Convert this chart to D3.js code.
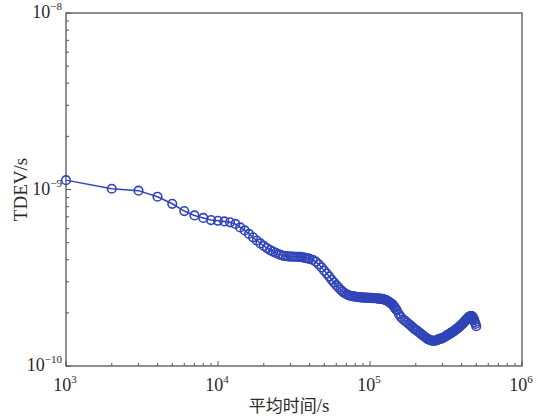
<!DOCTYPE html>
<html>
<head>
<meta charset="utf-8">
<script src="https://cdn.jsdelivr.net/npm/d3@7"></script>
<style>
  body { margin: 0; background: #fff; }
</style>
</head>
<body>
<svg id="chart" width="538" height="420"></svg>
<script>
// averaging time, in units of 1000 s (ks)
const tauKs = [
  1,2,3,4,5,6,7,8,9,10,11,12,13,14,15,16,17,18,19,20,
  21,22,23,24,25,26,27,28,29,30,31,32,33,34,35,36,37,38,39,40,
  42,44,46,48,50,52,54,56,58,60,62,64,66,68,70,72,74,76,78,80,
  82,84,86,88,90,92,94,96,98,100,102,104,106,108,110,112,114,116,118,120,
  122,124,126,128,130,132,134,136,138,140,142,144,146,148,150,
  155,160,165,170,175,180,185,190,195,200,205,210,215,220,225,230,235,240,245,250,
  255,260,265,270,275,280,285,290,295,300,305,310,315,320,325,330,335,340,345,350,
  355,360,365,370,375,380,385,390,395,400,405,410,415,420,425,430,435,440,445,450,
  455,460,465,470,475,480,485,490,495,500
];
// TDEV, in ns
const tdevNs = [
  1.13,1.01,0.985,0.91,0.83,0.755,0.713,0.69,0.671,0.665,0.659,0.652,0.638,0.61,0.586,0.56,0.536,0.514,0.495,0.479,
  0.466,0.454,0.445,0.437,0.430,0.425,0.421,0.419,0.418,0.417,0.417,0.416,0.416,0.415,0.415,0.413,0.411,0.409,0.407,0.405,
  0.399,0.390,0.377,0.362,0.347,0.334,0.321,0.308,0.297,0.287,0.279,0.271,0.264,0.259,0.255,0.252,0.250,0.249,0.248,0.247,
  0.246,0.246,0.245,0.245,0.244,0.244,0.244,0.243,0.243,0.243,0.243,0.242,0.242,0.242,0.242,0.241,0.241,0.241,0.240,0.240,
  0.239,0.238,0.237,0.236,0.234,0.232,0.230,0.228,0.226,0.224,0.221,0.217,0.214,0.210,0.207,
  0.197,0.189,0.184,0.180,0.177,0.173,0.170,0.166,0.163,0.160,0.158,0.155,0.153,0.150,0.148,0.146,0.144,0.142,0.141,0.140,
  0.139,0.139,0.139,0.139,0.140,0.141,0.142,0.143,0.143,0.144,0.145,0.146,0.147,0.149,0.150,0.151,0.152,0.154,0.155,0.156,
  0.157,0.159,0.160,0.162,0.163,0.165,0.166,0.168,0.170,0.171,0.173,0.175,0.177,0.179,0.181,0.183,0.185,0.187,0.189,0.190,
  0.191,0.192,0.192,0.191,0.189,0.186,0.182,0.177,0.173,0.168
];
const xTickExps = [3, 4, 5, 6];
const yTickExps = [-10, -9, -8];
const xLabelCn = "平均时间";
const xLabelUnit = "/s";
const yLabel = "TDEV/s";

const data = tauKs.map((t, i) => ({ tau: t * 1000, tdev: tdevNs[i] * 1e-9 }));

const margin = { left: 66, top: 13, right: 16, bottom: 54 };
const W = 538, H = 420;
const iw = W - margin.left - margin.right;
const ih = H - margin.top - margin.bottom;

const serif = '"Liberation Serif", "Times New Roman", serif';
const cjk = '"Noto Sans CJK SC", sans-serif';
const textColor = "#2a2a2a";
const axisColor = "#555";

const svg = d3.select('#chart');
const g = svg.append('g').attr('transform', `translate(${margin.left},${margin.top})`);

const x = d3.scaleLog().domain([1e3, 1e6]).range([0, iw]);
const y = d3.scaleLog().domain([1e-10, 1e-8]).range([ih, 0]);

// minor + major ticks, drawn inward on left and bottom only
const isMajor = v => Math.abs(Math.log10(v) - Math.round(Math.log10(v))) < 1e-9;

g.append('g').selectAll('line').data(x.ticks()).enter().append('line')
  .attr('x1', d => x(d)).attr('x2', d => x(d))
  .attr('y1', ih).attr('y2', d => ih - (isMajor(d) ? 5 : 3))
  .attr('stroke', axisColor).attr('stroke-width', 1);

g.append('g').selectAll('line').data(y.ticks()).enter().append('line')
  .attr('y1', d => y(d)).attr('y2', d => y(d))
  .attr('x1', 0).attr('x2', d => (isMajor(d) ? 5 : 3))
  .attr('stroke', axisColor).attr('stroke-width', 1);

// box
g.append('rect').attr('x', 0).attr('y', 0).attr('width', iw).attr('height', ih)
  .attr('fill', 'none').attr('stroke', axisColor).attr('stroke-width', 1.3);

// x tick labels
const xl = g.append('g').selectAll('text').data(xTickExps).enter().append('text')
  .attr('x', d => x(Math.pow(10, d)) - 1)
  .attr('y', ih + 25)
  .attr('text-anchor', 'middle')
  .attr('font-family', serif).attr('fill', textColor)
  .style('font-size', '18px');
xl.append('tspan').text('10');
xl.append('tspan').attr('dy', -8).style('font-size', '11px').text(d => d);

// y tick labels
const yl = g.append('g').selectAll('text').data(yTickExps).enter().append('text')
  .attr('x', -4)
  .attr('y', d => y(Math.pow(10, d)) + 5)
  .attr('text-anchor', 'end')
  .attr('font-family', serif).attr('fill', textColor)
  .style('font-size', '18px');
yl.append('tspan').text('10');
yl.append('tspan').attr('dy', -8).style('font-size', '11px').text(d => '\u2212' + Math.abs(d));

// axis titles
const xt = svg.append('text')
  .attr('x', margin.left + iw / 2 - 5)
  .attr('y', H - 8)
  .attr('text-anchor', 'middle')
  .attr('fill', textColor)
  .style('font-size', '17px');
xt.append('tspan').attr('font-family', cjk).text(xLabelCn);
xt.append('tspan').attr('font-family', serif).style('font-size', '19px').text(xLabelUnit);

svg.append('text')
  .attr('transform', `translate(${27},${margin.top + ih / 2}) rotate(-90)`)
  .attr('text-anchor', 'middle')
  .attr('font-family', serif).attr('fill', textColor)
  .style('font-size', '19px')
  .text(yLabel);

// series
const blue = "#3044b8";
const line = d3.line().x(d => x(d.tau)).y(d => y(d.tdev));
g.append('path').datum(data)
  .attr('d', line).attr('fill', 'none')
  .attr('stroke', blue).attr('stroke-width', 1.5);

g.append('g').selectAll('circle').data(data).enter().append('circle')
  .attr('cx', d => x(d.tau)).attr('cy', d => y(d.tdev))
  .attr('r', 4.3)
  .attr('fill', 'none')
  .attr('stroke', blue).attr('stroke-width', 1.6);
</script>
</body>
</html>
